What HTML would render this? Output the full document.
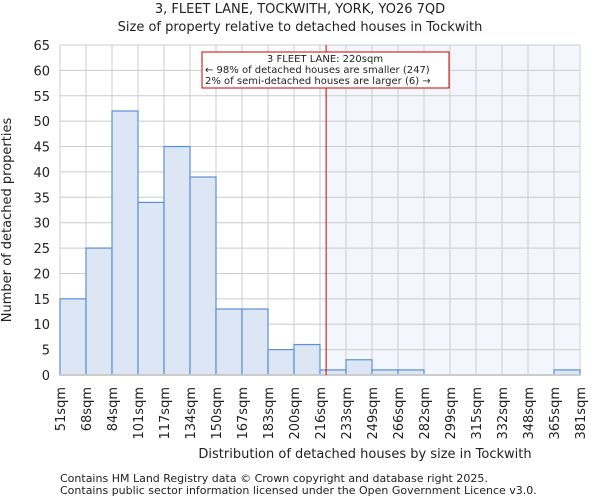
<!DOCTYPE html>
<html><head><meta charset="utf-8"><style>
body{margin:0;background:#fff;font-family:"DejaVu Sans","Liberation Sans",sans-serif;}
text{font-family:"DejaVu Sans","Liberation Sans",sans-serif;fill:#222;}
</style></head><body>
<svg id="chart" width="600" height="500" xmlns="http://www.w3.org/2000/svg">
<text x="300" y="13" font-size="13" text-anchor="middle">3, FLEET LANE, TOCKWITH, YORK, YO26 7QD</text>
<text x="300" y="31" font-size="13" text-anchor="middle">Size of property relative to detached houses in Tockwith</text>
<g id="grid"></g><g id="bars"></g><g id="axes"></g>
<text x="365" y="458" font-size="13" text-anchor="middle">Distribution of detached houses by size in Tockwith</text>
<text transform="translate(11,220) rotate(-90)" font-size="13" text-anchor="middle">Number of detached properties</text>
<text x="60" y="482" font-size="11" fill="#444">Contains HM Land Registry data © Crown copyright and database right 2025.</text>
<text x="60" y="494" font-size="11" fill="#444">Contains public sector information licensed under the Open Government Licence v3.0.</text>
</svg>
<script>
const categories=["51sqm","68sqm","84sqm","101sqm","117sqm","134sqm","150sqm","167sqm","183sqm","200sqm","216sqm","233sqm","249sqm","266sqm","282sqm","299sqm","315sqm","332sqm","348sqm","365sqm","381sqm"];
const counts=[15,25,52,34,45,39,13,13,5,6,1,3,1,1,0,0,0,0,0,1];
const yTicks=[0,5,10,15,20,25,30,35,40,45,50,55,60,65];
const markerValue=220;
const NS="http://www.w3.org/2000/svg";
const x0=60,x1=580,yTop=45,yBot=375,yMax=65;
const bw=(x1-x0)/counts.length;
const xs=i=>x0+i*bw;
const ys=v=>yBot-(v/yMax)*(yBot-yTop);
const sizeNum=categories.map(c=>parseFloat(c));
function xVal(v){for(let i=0;i<sizeNum.length-1;i++){if(v>=sizeNum[i]&&v<=sizeNum[i+1])return xs(i)+bw*(v-sizeNum[i])/(sizeNum[i+1]-sizeNum[i]);}return x1;}
function mk(tag,attrs,parent){const e=document.createElementNS(NS,tag);for(const k in attrs)e.setAttribute(k,attrs[k]);parent.appendChild(e);return e;}
const grid=document.getElementById('grid'),bars=document.getElementById('bars'),axes=document.getElementById('axes');
const mx=xVal(markerValue);
let r=mk('rect',{x:mx,y:yTop,width:x1-mx,height:yBot-yTop,fill:'#f3f6fd'},grid);


yTicks.forEach(t=>{
 const l=mk('line',{x1:x0,x2:x1,y1:ys(t),y2:ys(t),stroke:'#ccc','stroke-width':1},grid);
 
 
 const tx=mk('text',{x:x0-10,y:ys(t)+5,'font-size':13,'text-anchor':'end'},axes);
 tx.textContent=t;
 
 
});
categories.forEach((c,i)=>{
 const x=xs(i);
 const l=mk('line',{x1:x,x2:x,y1:yTop,y2:yBot,stroke:'#ccc','stroke-width':1},grid);
 
 
 const tx=mk('text',{transform:`translate(${x+5},${yBot+12}) rotate(-90)`,'font-size':13,'text-anchor':'end'},axes);
 tx.textContent=c;
 
 
});
counts.forEach((v,i)=>{
 if(v<=0)return;
 const b=mk('rect',{x:xs(i),y:ys(v),width:bw,height:yBot-ys(v),fill:'#dce6f4',stroke:'#5b8fd6','stroke-width':1.2},bars);
 
 
});
const bl=mk('line',{x1:x0,x2:x1,y1:yBot,y2:yBot,stroke:'#ccc','stroke-width':2},axes);


const ml=mk('line',{x1:mx,x2:mx,y1:yTop,y2:yBot,stroke:'#cc0000','stroke-width':1},axes);


const box=mk('rect',{x:202,y:52,width:247,height:36,fill:'#fff',stroke:'#cc0000','stroke-width':1},axes);


["3 FLEET LANE: 220sqm","← 98% of detached houses are smaller (247)","2% of semi-detached houses are larger (6) →"].forEach((s,i)=>{
 const t=mk('text',{x:i==0?325:205,y:62+i*11,'font-size':10,'text-anchor':i==0?'middle':'start'},axes);
 t.textContent=s;
 
 
});
</script>
</body></html>
